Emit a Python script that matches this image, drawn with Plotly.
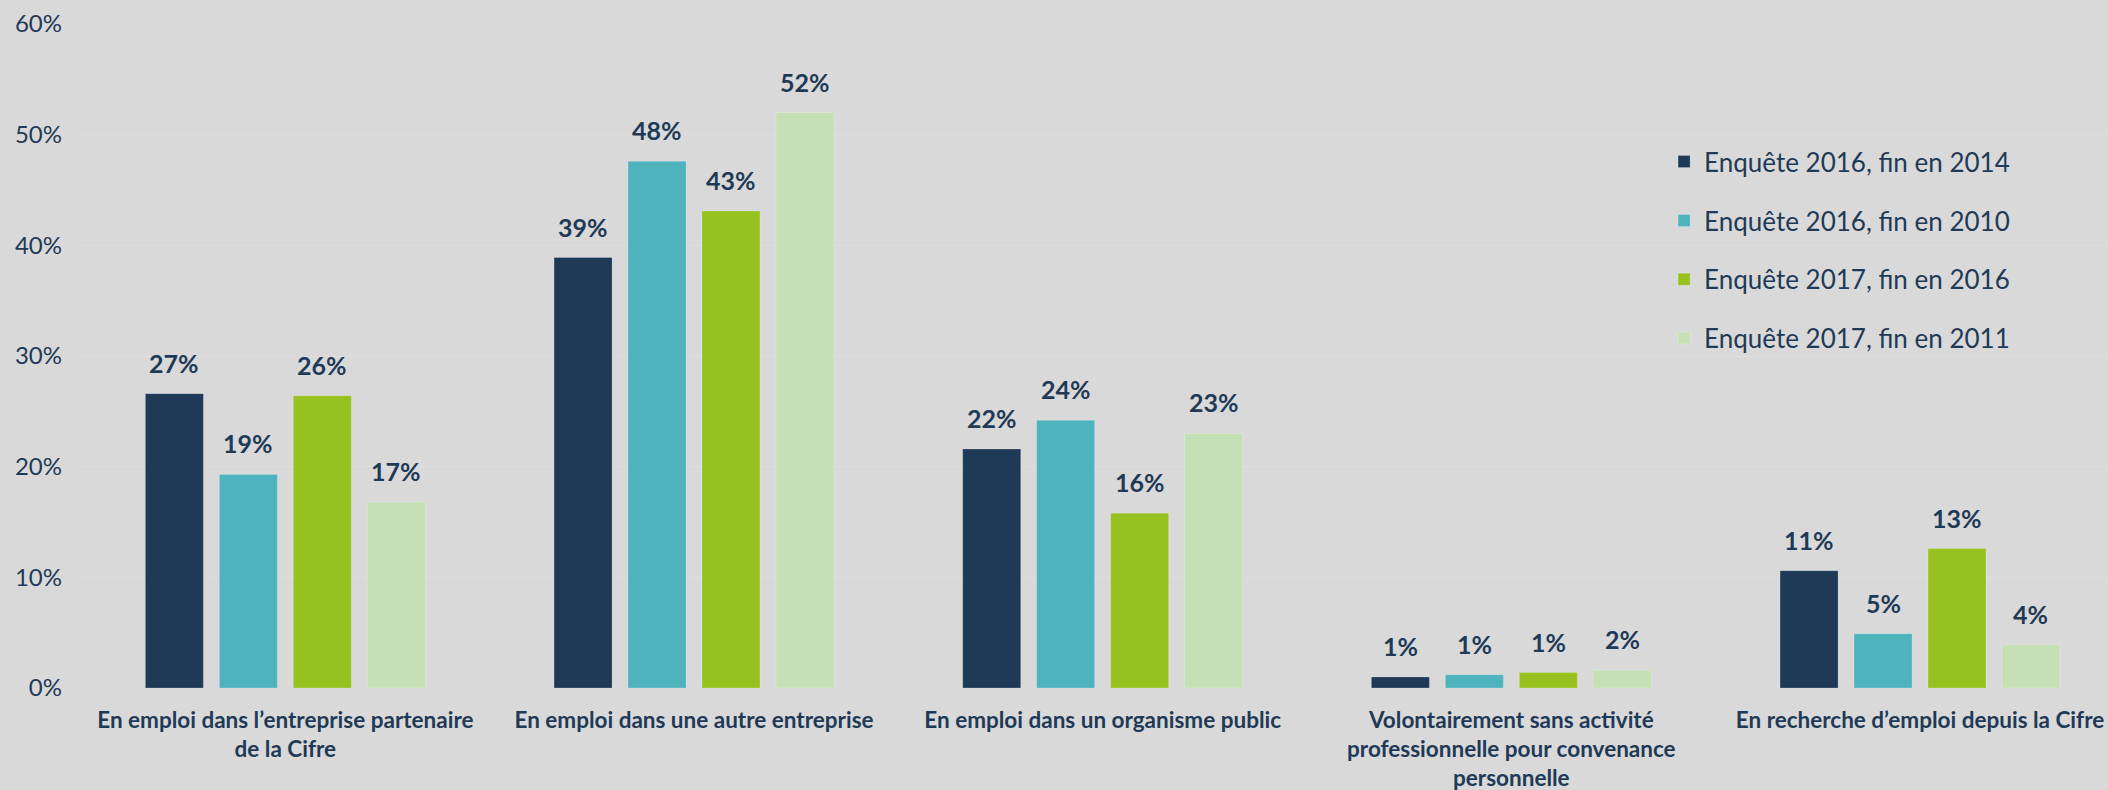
import plotly.graph_objects as go

# categories (x axis) and the four survey series, values in %
categories = [
    "En emploi dans l’entreprise partenaire<br>de la Cifre",
    "En emploi dans une autre entreprise",
    "En emploi dans un organisme public",
    "Volontairement sans activité<br>professionnelle pour convenance<br>personnelle",
    "En recherche d’emploi depuis la Cifre",
]
series_names = [
    "Enquête 2016, fin en 2014",
    "Enquête 2016, fin en 2010",
    "Enquête 2017, fin en 2016",
    "Enquête 2017, fin en 2011",
]
enq2016_fin2014 = [26.6, 38.9, 21.6, 1.0, 10.6]
enq2016_fin2010 = [19.3, 47.6, 24.2, 1.2, 4.9]
enq2017_fin2016 = [26.4, 43.1, 15.8, 1.4, 12.6]
enq2017_fin2011 = [16.8, 52.0, 23.0, 1.6, 3.9]
y_ticks = [0, 10, 20, 30, 40, 50, 60]
y_tick_labels = ['0%', '10%', '20%', '30%', '40%', '50%', '60%']

colors = ['#1E3A56', '#4FB3BD', '#96C11F', '#C5E0B4']
text_color = '#1F3A57'
bg = '#D9D9D9'
font = 'Lato'
bargap = 0.276

all_series = [enq2016_fin2014, enq2016_fin2010, enq2017_fin2016, enq2017_fin2011]

fig = go.Figure()
for i, (name, vals) in enumerate(zip(series_names, all_series)):
    fig.add_trace(go.Bar(x=categories, y=vals, name=name, legendgroup=name,
                         marker=dict(color=colors[i], line=dict(width=1, color='rgba(255,255,255,0.2)'))))

# value labels above each bar
slot = (1 - bargap) / len(all_series)
annotations = []
for j, vals in enumerate(all_series):
    for i, v in enumerate(vals):
        annotations.append(dict(x=i + (j - 1.5) * slot, y=v, xref='x', yref='y',
                                text=f"<b>{v:.0f}%</b>", showarrow=False, yanchor='bottom',
                                yshift=14, font=dict(family=font, size=25, color=text_color)))

fig.update_layout(
    width=2108, height=790,
    margin=dict(l=81, r=0, t=24, b=102),
    plot_bgcolor=bg, paper_bgcolor=bg,
    barmode='group', bargap=bargap, bargroupgap=0.216,
    font=dict(family=font, color=text_color),
    annotations=annotations,
    legend=dict(x=0.781, y=0.828, xanchor='left', yanchor='top',
                font=dict(size=26, color=text_color), traceorder='grouped',
                tracegroupgap=22, bgcolor='rgba(0,0,0,0)'),
)
fig.update_xaxes(range=[-0.5, 4.46], showgrid=False, showline=False, ticks='',
                 ticklabelstandoff=16,
                 tickfont=dict(family=font, size=22.5, color=text_color, weight='bold'))
fig.update_yaxes(range=[0, 60], tickvals=y_ticks, ticktext=y_tick_labels, showgrid=True,
                 gridcolor='#DEDEDE', gridwidth=1, zeroline=False, showline=False,
                 ticklabelstandoff=18, tickfont=dict(family=font, size=24, color=text_color))

fig.write_html("out.html", config={'displayModeBar': False},
               post_script="document.body.style.margin='0';document.body.style.overflow='hidden';")
